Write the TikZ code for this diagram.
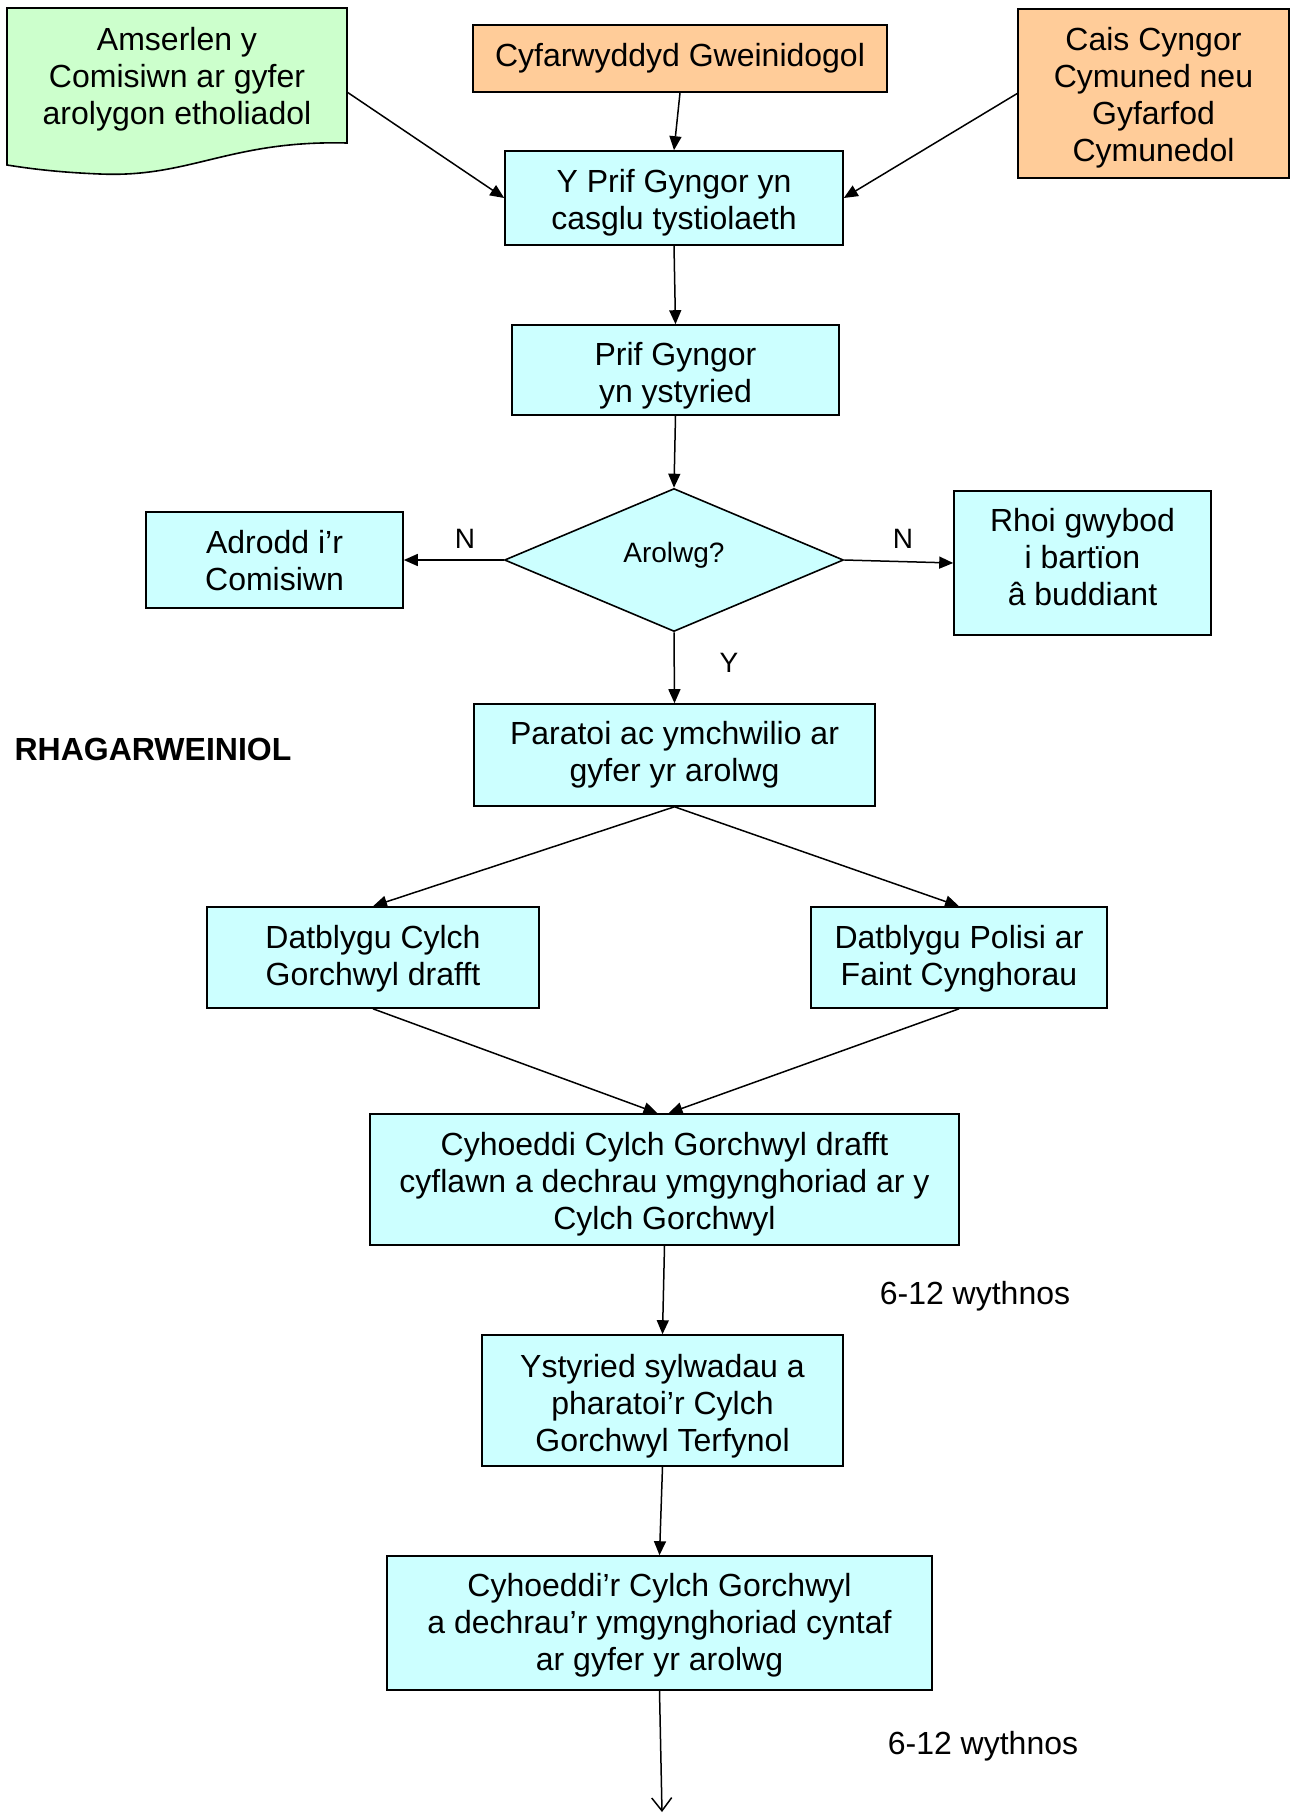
\documentclass[tikz,border=0pt]{standalone}
\usepackage{fontspec}
\setmainfont{Liberation Sans}
\usetikzlibrary{shapes.geometric,arrows.meta}
\definecolor{cyanbox}{HTML}{CCFFFF}
\definecolor{orangebox}{HTML}{FFCC99}
\definecolor{greenbox}{HTML}{CCFFCC}
\newcommand\boxtxt[2]{\raisebox{-#1pt}[\height][\depth]{\begin{tabular}{@{}c@{}}#2\end{tabular}}}
\begin{document}
\begin{tikzpicture}[x=1pt,y=-1pt,
  every node/.style={font=\fontsize{32}{37}\selectfont},
  box/.style={draw=black,line width=1.6pt,fill=cyanbox,inner sep=0pt},
  obox/.style={box,fill=orangebox},
  lbl/.style={font=\fontsize{28}{32}\selectfont,inner sep=0pt},
  arr/.style={line width=1.5pt,-{Triangle[length=14pt,width=12pt]}},
]
\useasboundingbox (0,0) rectangle (1290,1813);
% document shape
\draw[line width=1.6pt,fill=greenbox] (7,8) -- (347,8) -- (347,143)
  .. controls (230,140) and (190,178) .. (100,174)
  .. controls (50,172) and (20,167) .. (7,165) -- cycle;
\node[inner sep=0pt] (ams) at (177,75) {\boxtxt{5}{Amserlen y\\Comisiwn ar gyfer\\arolygon etholiadol}};
\coordinate (amsR) at (347,92);

\node[obox,minimum width=414,minimum height=67] (cyf) at (680,58.5) {Cyfarwyddyd Gweinidogol};
\node[obox,minimum width=271,minimum height=169] (cais) at (1153.5,93.5) {\boxtxt{5}{Cais Cyngor\\Cymuned neu\\Gyfarfod\\Cymunedol}};
\node[box,minimum width=338,minimum height=94] (yprif) at (674,198) {\boxtxt{6}{Y Prif Gyngor yn\\casglu tystiolaeth}};
\node[box,minimum width=327,minimum height=90] (ystyr) at (675.5,370) {\boxtxt{7}{Prif Gyngor\\yn ystyried}};
\node[draw=black,line width=1.6pt,fill=cyanbox,diamond,minimum width=339,minimum height=143,inner sep=0pt] (dia) at (674,560) {};
\node[lbl] (dtxt) at (674,555) {Arolwg?};
\node[box,minimum width=257,minimum height=96] (adr) at (274.5,560) {\boxtxt{5}{Adrodd i’r\\Comisiwn}};
\node[box,minimum width=257,minimum height=144] (rhoi) at (1082.5,563) {\boxtxt{-2}{Rhoi gwybod\\i bartïon\\â buddiant}};
\node[box,minimum width=401,minimum height=102] (par) at (674.5,755) {\boxtxt{1}{Paratoi ac ymchwilio ar\\gyfer yr arolwg}};
\node[box,minimum width=332,minimum height=101] (dcg) at (373,957.5) {\boxtxt{2}{Datblygu Cylch\\Gorchwyl drafft}};
\node[box,minimum width=296,minimum height=101] (dpol) at (959,957.5) {\boxtxt{2}{Datblygu Polisi ar\\Faint Cynghorau}};
\node[box,minimum width=589,minimum height=131] (cyh) at (664.5,1179.5) {\boxtxt{6}{Cyhoeddi Cylch Gorchwyl drafft\\cyflawn a dechrau ymgynghoriad ar y\\Cylch Gorchwyl}};
\node[box,minimum width=361,minimum height=131] (yst) at (662.5,1400.5) {\boxtxt{7}{Ystyried sylwadau a\\pharatoi’r Cylch\\Gorchwyl Terfynol}};
\node[box,minimum width=545,minimum height=134] (cyr) at (659.5,1623) {\boxtxt{3}{Cyhoeddi’r Cylch Gorchwyl\\a dechrau’r ymgynghoriad cyntaf\\ar gyfer yr arolwg}};
\coordinate (endpt) at (662,1812);

% labels
\node[lbl] (n1) at (465,539) {N};
\node[lbl] (n2) at (903,539) {N};
\node[lbl] (y1) at (729,663) {Y};
\node[inner sep=0pt,font=\bfseries\fontsize{32}{37}\selectfont] (rhag) at (153,749) {RHAGARWEINIOL};
\node[inner sep=0pt] (w1) at (975,1296) {6-12 wythnos};
\node[inner sep=0pt] (w2) at (983,1746) {6-12 wythnos};

% connectors
\draw[arr] (cyf.south) -- (yprif.north);
\draw[arr] (amsR) -- (yprif.west);
\draw[arr] (cais.west) -- (yprif.east);
\draw[arr] (yprif.south) -- (ystyr.north);
\draw[arr] (ystyr.south) -- (dia.north);
\draw[arr] (dia.west) -- (adr.east);
\draw[arr] (dia.east) -- (rhoi.west);
\draw[arr] (dia.south) -- (par.north);
\draw[arr] (par.south) -- (dcg.north);
\draw[arr] (par.south) -- (dpol.north);
\draw[arr] (dcg.south) -- ([xshift=-7pt]cyh.north);
\draw[arr] (dpol.south) -- ([xshift=4pt]cyh.north);
\draw[arr] (cyh.south) -- (yst.north);
\draw[arr] (yst.south) -- (cyr.north);
\draw[line width=1.5pt,-{Straight Barb[length=13pt,width=20pt]}] (cyr.south) -- (endpt);
\end{tikzpicture}
\end{document}
